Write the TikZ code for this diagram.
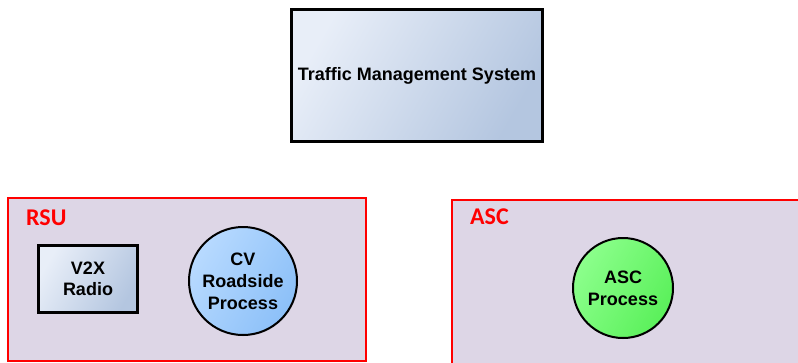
\documentclass[tikz,border=0pt]{standalone}
\usepackage{fontspec}
\setmainfont{Liberation Sans}
\newfontfamily\labelfont{Carlito}
\usetikzlibrary{shadows}

\definecolor{boxlight}{RGB}{232,238,248}
\definecolor{boxdark}{RGB}{180,198,224}
\definecolor{cvlight}{RGB}{184,218,255}
\definecolor{cvdark}{RGB}{140,192,248}
\definecolor{asclight}{RGB}{140,255,140}
\definecolor{ascdark}{RGB}{90,240,90}
\definecolor{groupfill}{RGB}{221,214,230}
\definecolor{groupred}{RGB}{255,0,0}

\begin{document}
\begin{tikzpicture}[x=1pt, y=-1pt,
	group/.style={draw=groupred, line width=1.6pt, fill=groupfill, anchor=north west},
	grouplabel/.style={text=groupred, font=\labelfont\bfseries\fontsize{24}{24}\selectfont, anchor=base west, inner sep=0pt},
	system/.style={draw=black, line width=2.6pt, left color=boxlight, right color=boxdark, shading angle=60,
		drop shadow={shadow xshift=1.5pt, shadow yshift=-1.5pt, opacity=0.25},
		font=\bfseries\fontsize{18}{21.5}\selectfont, align=center, inner sep=0pt},
	process/.style={circle, draw=black, line width=2pt, inner sep=0pt,
		drop shadow={shadow xshift=1pt, shadow yshift=-1pt, opacity=0.2},
		font=\bfseries\fontsize{18}{22}\selectfont, align=center}]
	\clip (0,0) rectangle (798,362);
	%\draw[help lines] (0,0) grid[step=50] (798,362);
	% top
	\node[system, minimum width=251, minimum height=132] (tms) at (417,75.5) {Traffic Management System};
	% RSU
	\node[group, minimum width=358, minimum height=163] (rsu) at (7,197) {};
	\node[grouplabel] (rsulabel) at (26,225) {RSU};
	\node[system, line width=2.3pt, minimum width=99, minimum height=67] (radio) at (88,279) {V2X\\Radio};
	\node[process, left color=cvlight, right color=cvdark, shading angle=60, minimum size=108] (cv) at (243,281) {CV\\Roadside\\Process};
	% ASC
	\node[group, minimum width=360, minimum height=180] (asc) at (451,199) {};
	\node[grouplabel] (asclabel) at (470,224) {ASC};
	\node[process, left color=asclight, right color=ascdark, shading angle=60, minimum size=100] (ascproc) at (623,288) {ASC\\Process};
\end{tikzpicture}
\end{document}
